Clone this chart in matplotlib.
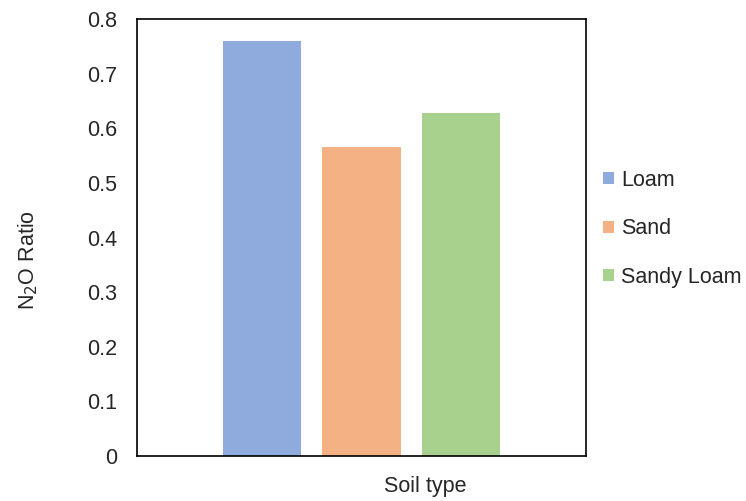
import numpy as np
import matplotlib
matplotlib.use("Agg")
import matplotlib.pyplot as plt

plt.rcParams["font.family"] = ["Liberation Sans", "DejaVu Sans"]

# N2O ratio per soil type
soils = ["Loam", "Sand", "Sandy Loam"]
ratios = [0.759, 0.566, 0.628]
colors = ["#8faadc", "#f4b183", "#a9d18e"]
yticks = [0, 0.1, 0.2, 0.3, 0.4, 0.5, 0.6, 0.7, 0.8]
ytick_labels = ["0", "0.1", "0.2", "0.3", "0.4", "0.5", "0.6", "0.7", "0.8"]

FS = 15.5
TXT = "#262626"

fig = plt.figure(figsize=(7.46, 5.01), dpi=100)
ax = fig.add_axes([137 / 746, 45 / 501, 449 / 746, 437 / 501])

xpos = np.arange(len(soils)) - 1
width = 0.79
for x, v, c, name in zip(xpos, ratios, colors, soils):
    ax.bar(x, v, width=width, color=c, label=name, zorder=2)

ax.set_xlim(-2.256, 2.256)
ax.set_ylim(0, 0.8)
ax.set_xticks([])
ax.set_yticks(yticks)
ax.set_yticklabels(ytick_labels)
ax.tick_params(axis="y", length=0, pad=14, labelsize=FS, labelcolor=TXT)
for sp in ax.spines.values():
    sp.set_color("black")
    sp.set_linewidth(1.2)

ax.set_ylabel("N$_2$O Ratio", fontsize=FS, color=TXT)
ax.yaxis.set_label_coords((40 - 137) / 449, (456 - 260) / 437)
ax.set_xlabel("Soil type", fontsize=FS, color=TXT)
ax.xaxis.set_label_coords((425 - 137) / 449, -(476 - 456) / 437)

leg = ax.legend(loc="upper left", bbox_to_anchor=(603 / 746, (501 - 170) / 501),
                bbox_transform=fig.transFigure, frameon=False, fontsize=FS,
                handlelength=0.5, handleheight=0.5, handletextpad=0.35,
                labelspacing=1.27, borderaxespad=0, borderpad=0)
for t in leg.get_texts():
    t.set_color(TXT)

fig.savefig("out.png", dpi=100)
